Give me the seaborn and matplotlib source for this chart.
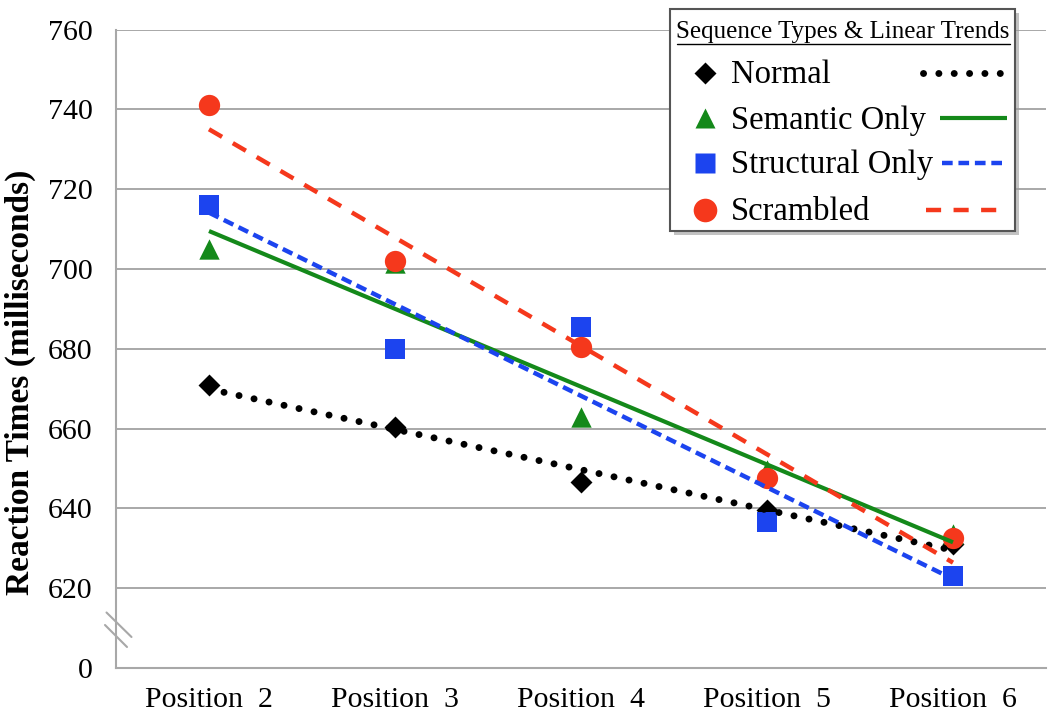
import numpy as np
import pandas as pd
import matplotlib
matplotlib.use("Agg")
import matplotlib.pyplot as plt
from matplotlib.lines import Line2D
from matplotlib.patches import Rectangle
import seaborn as sns

# ---------------- data ----------------
positions = ["Position  2", "Position  3", "Position  4", "Position  5", "Position  6"]
normal = [671.0, 660.5, 646.5, 639.5, 631.0]
semantic = [705.0, 701.5, 663.0, 649.5, 633.5]
structural = [716.0, 680.0, 685.5, 636.5, 623.0]
scrambled = [741.0, 702.0, 680.5, 647.5, 632.5]
series_names = ["Normal", "Semantic Only", "Structural Only", "Scrambled"]
ytick_values = [600, 620, 640, 660, 680, 700, 720, 740, 760]
ytick_labels = ["0", "620", "640", "660", "680", "700", "720", "740", "760"]
legend_title = "Sequence Types & Linear Trends"
y_label = "Reaction Times (milliseconds)"

sns.set_theme(style="white")
plt.rcParams["font.family"] = ["Liberation Serif", "DejaVu Serif"]
plt.rcParams["text.color"] = "black"

W, H = 1050, 720
fig = plt.figure(figsize=(10.5, 7.2), dpi=100)
ax = fig.add_axes([116 / W, 1 - 668 / H, (1046 - 116) / W, (668 - 29.5) / H])

xnum = np.arange(len(positions))
df = pd.DataFrame({
    "pos": np.tile(xnum, 4),
    "rt": normal + semantic + structural + scrambled,
    "series": np.repeat(series_names, len(positions)),
})

styles = {
    "Normal": dict(color="black", marker="D", s=125,
                   ls=(0, (0.01, 2.2)), lw=5.0, cap="round"),
    "Semantic Only": dict(color="#14891a", marker="^", s=215,
                          ls="-", lw=3.0, cap="butt"),
    "Structural Only": dict(color="#1c44ef", marker="s", s=195,
                            ls=(0, (2.4, 1.3)), lw=3.2, cap="butt"),
    "Scrambled": dict(color="#f5381c", marker="o", s=235,
                      ls=(0, (3.4, 2.8)), lw=3.2, cap="butt"),
}

# markers
for name in series_names:
    st = styles[name]
    sub = df[df["series"] == name]
    sns.scatterplot(data=sub, x="pos", y="rt", ax=ax, color=st["color"],
                    marker=st["marker"], s=st["s"], linewidth=0, zorder=3,
                    legend=False)

# linear trends
for name in series_names:
    st = styles[name]
    sub = df[df["series"] == name]
    sns.regplot(data=sub, x="pos", y="rt", ax=ax, scatter=False, ci=None,
                truncate=True,
                line_kws=dict(color=st["color"], ls=st["ls"], lw=st["lw"],
                              dash_capstyle=st["cap"], solid_capstyle="butt",
                              zorder=4))

# ---------------- axes styling ----------------
gray = "#a8a8a8"
ax.set_xlim(-0.5, len(positions) - 0.5)
ax.set_ylim(600, 760)
ax.set_yticks(ytick_values)
ax.set_yticklabels(ytick_labels)
ax.set_xticks(np.arange(len(positions) + 1) - 0.5)
ax.set_xticklabels([])
ax.set_xticks(xnum, minor=True)
ax.set_xticklabels(positions, minor=True)
ax.tick_params(axis="x", which="minor", length=0, pad=14, labelsize=21.5, colors="black")
ax.tick_params(axis="x", which="major", length=6, width=1.3, color=gray, direction="out")
ax.tick_params(axis="y", length=6, width=1.3, color=gray, pad=11, labelsize=21.5,
               labelcolor="black", direction="out")
ax.yaxis.grid(True, color=gray, lw=1.4)
ax.xaxis.grid(False)
ax.set_axisbelow(True)
for sp in ["top", "right"]:
    ax.spines[sp].set_visible(False)
for sp in ["left", "bottom"]:
    ax.spines[sp].set_color(gray)
    ax.spines[sp].set_linewidth(1.5)
ax.set_xlabel("")
ax.set_ylabel("")


def P(x, y):
    return (x / W, 1 - y / H)


lx_, ly_ = P(20, 382)
fig.text(lx_, ly_, y_label, rotation=90, ha="center", va="center",
         fontsize=24, fontweight="bold", color="black")

# axis break mark
for (x0, y0), (x1, y1) in [((106.5, 612.5), (131.5, 637)), ((105, 625), (127, 647))]:
    a, b = P(x0, y0)
    c, d = P(x1, y1)
    fig.add_artist(Line2D([a, c], [b, d], color=gray, lw=1.5, transform=fig.transFigure))

# ---------------- legend (drawn as a box) ----------------
bx0, by0, bx1, by1 = 670, 8.5, 1015, 230.5
sx, sy = P(bx0 + 4, by1 + 4)
fig.add_artist(Rectangle((sx, sy), (bx1 - bx0) / W, (by1 - by0) / H,
                         transform=fig.transFigure, facecolor="#9a9a9a",
                         edgecolor="none", alpha=0.6, zorder=9))
lx, ly = P(bx0, by1)
fig.add_artist(Rectangle((lx, ly), (bx1 - bx0) / W, (by1 - by0) / H,
                         transform=fig.transFigure, facecolor="white",
                         edgecolor="#555555", lw=1.5, zorder=10))
tx, ty = P(843, 38)
fig.text(tx, ty, legend_title, ha="center", va="baseline", fontsize=18, zorder=11,
         color="black")
a, b = P(677, 44)
c, d = P(1010, 44)
fig.add_artist(Line2D([a, c], [b, b], color="black", lw=1.0,
                      transform=fig.transFigure, zorder=11))

row_base = [83, 128.5, 173.5, 220]
line_start = [923, 940, 942, 926]
leg_ms = {"Normal": 11, "Semantic Only": 14, "Structural Only": 15, "Scrambled": 17}
for i, name in enumerate(series_names):
    st = styles[name]
    yb = row_base[i]
    yc = yb - 10.5
    mx, my = P(705, yc)
    fig.add_artist(Line2D([mx], [my], marker=st["marker"], ms=leg_ms[name],
                          color=st["color"], mec="none", ls="none",
                          transform=fig.transFigure, zorder=11))
    t1, t2 = P(731, yb)
    fig.text(t1, t2, name, ha="left", va="baseline", fontsize=23.5, zorder=11,
             color="black")
    a, b = P(line_start[i], yc)
    c, _ = P(1007, yc)
    fig.add_artist(Line2D([a, c], [b, b], color=st["color"], ls=st["ls"], lw=st["lw"],
                          dash_capstyle=st["cap"], solid_capstyle="butt",
                          transform=fig.transFigure, zorder=11))

fig.savefig("out.png", dpi=100)
